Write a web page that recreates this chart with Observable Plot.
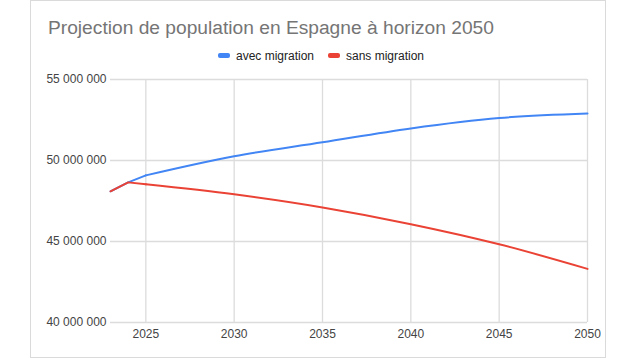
<!DOCTYPE html>
<html>
<head>
<meta charset="utf-8">
<script src="https://cdn.jsdelivr.net/npm/d3@7"></script>
<script src="https://cdn.jsdelivr.net/npm/@observablehq/plot@0.6"></script>
<style>
  html, body { margin: 0; padding: 0; background: #fff; }
  body { width: 636px; height: 358px; position: relative; overflow: hidden; font-family: "Liberation Sans", Arial, sans-serif; }
  #card { position: absolute; left: 30px; top: 0px; width: 574px; height: 356px; border: 1px solid #dadada; box-sizing: content-box; }
  #title { position: absolute; left: 48px; top: 17px; font-size: 19.2px; color: #757575; white-space: nowrap; }
  #legend { position: absolute; left: 3px; width: 636px; top: 47px; text-align: center; font-size: 12px; color: #222; white-space: nowrap; }
  .item { display: inline-flex; align-items: center; margin: 0 7px; }
  .sw { display: inline-block; width: 12px; height: 5px; border-radius: 2px; margin-right: 6px; }
  #chart { position: absolute; left: 0; top: 60px; }
</style>
</head>
<body>
<div id="card"></div>
<div id="title">Projection de population en Espagne à horizon 2050</div>
<div id="legend"></div>
<div id="chart"></div>
<script>
const years = [2023, 2024, 2025, 2030, 2035, 2040, 2045, 2050];
const avecMigration = [48.10e6, 48.65e6, 49.08e6, 50.26e6, 51.12e6, 51.98e6, 52.62e6, 52.90e6];
const sansMigration = [48.10e6, 48.65e6, 48.53e6, 47.91e6, 47.10e6, 46.07e6, 44.83e6, 43.31e6];
const seriesNames = ["avec migration", "sans migration"];
const seriesColors = ["#4285f4", "#ea4335"];
const xTicks = [2025, 2030, 2035, 2040, 2045, 2050];
const yTicks = [40e6, 45e6, 50e6, 55e6];

const rows = [];
years.forEach((y, i) => {
  rows.push({year: y, value: avecMigration[i], series: seriesNames[0]});
  rows.push({year: y, value: sansMigration[i], series: seriesNames[1]});
});

const legend = document.getElementById("legend");
seriesNames.forEach((n, i) => {
  const it = document.createElement("span");
  it.className = "item";
  it.innerHTML = `<span class="sw" style="background:${seriesColors[i]}"></span>${n}`;
  legend.appendChild(it);
});

const fmt = d => d3.format(",")(d).replace(/,/g, " ");

const chart = Plot.plot({
  width: 636,
  height: 298,
  marginLeft: 110,
  marginRight: 49,
  marginTop: 19,
  marginBottom: 36,
  style: {fontFamily: "'Liberation Sans', Arial, sans-serif", fontSize: "12px", color: "#444", background: "transparent"},
  x: {domain: [2023, 2050], ticks: xTicks, tickFormat: d => String(d), tickSize: 0, tickPadding: 7, label: null},
  y: {domain: [40e6, 55e6], ticks: yTicks, tickFormat: fmt, tickSize: 0, tickPadding: 4, label: null},
  color: {domain: seriesNames, range: seriesColors},
  marks: [
    Plot.gridY(yTicks, {stroke: "#dcdcdc", strokeOpacity: 1, strokeWidth: 1.3}),
    Plot.gridX(xTicks, {stroke: "#dcdcdc", strokeOpacity: 1, strokeWidth: 1.3}),
    Plot.axisX({ticks: xTicks, tickFormat: d => String(d), tickSize: 0, tickPadding: 7, label: null, fill: "#444"}),
    Plot.axisY({ticks: yTicks, tickFormat: fmt, tickSize: 0, tickPadding: 4, label: null, fill: "#444"}),
    Plot.line(rows.filter(d => d.year <= 2025), {x: "year", y: "value", z: "series", stroke: "series", strokeWidth: 2, curve: "linear"}),
    Plot.line(rows.filter(d => d.year >= 2025), {x: "year", y: "value", z: "series", stroke: "series", strokeWidth: 2, curve: "monotone-x"})
  ]
});
document.getElementById("chart").appendChild(chart);
</script>
</body>
</html>
